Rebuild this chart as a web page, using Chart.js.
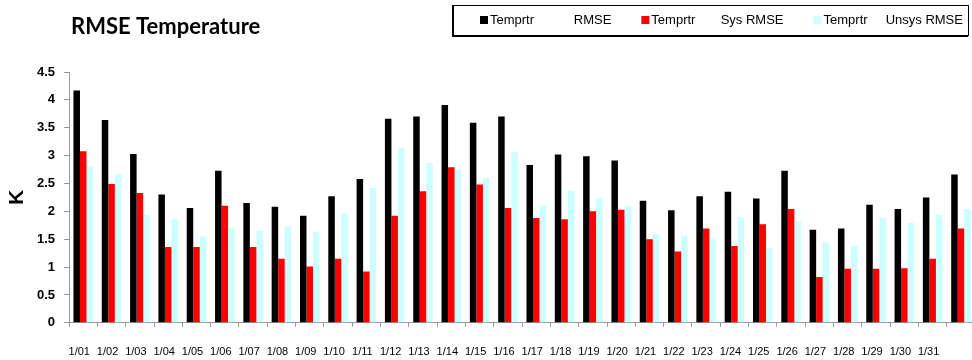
<!DOCTYPE html>
<html>
<head>
<meta charset="utf-8">
<script src="https://cdn.jsdelivr.net/npm/chart.js@4.4.1/dist/chart.umd.min.js"></script>
<style>
  html, body { margin: 0; padding: 0; background: #fff; overflow: hidden; }
  #wrap { width: 980px; height: 360px; }
</style>
</head>
<body>
<div id="wrap"><canvas id="rmseChart" width="980" height="360"></canvas></div>
<script>
const chartTitle = 'RMSE Temperature';
const yTitle = 'K';

const days = ['1/01','1/02','1/03','1/04','1/05','1/06','1/07','1/08','1/09','1/10',
  '1/11','1/12','1/13','1/14','1/15','1/16','1/17','1/18','1/19','1/20',
  '1/21','1/22','1/23','1/24','1/25','1/26','1/27','1/28','1/29','1/30','1/31',''];

const seriesNames = ['Temprtr           RMSE', 'Temprtr       Sys RMSE', 'Temprtr     Unsys RMSE'];
const seriesColors = ['#000000', '#ff0000', '#ccffff'];

const rmse = [4.17,3.64,3.03,2.30,2.06,2.73,2.15,2.08,1.92,2.27,2.58,3.66,3.70,3.91,3.59,3.70,
  2.83,3.02,2.99,2.91,2.19,2.02,2.27,2.35,2.23,2.73,1.67,1.69,2.12,2.04,2.25,2.66];
const sysRmse = [3.08,2.49,2.33,1.36,1.36,2.10,1.36,1.15,1.01,1.15,0.92,1.92,2.36,2.79,2.48,2.06,
  1.88,1.86,2.00,2.03,1.50,1.28,1.69,1.38,1.77,2.04,0.82,0.97,0.97,0.98,1.15,1.69];
const unsysRmse = [2.81,2.66,1.94,1.86,1.55,1.71,1.65,1.73,1.63,1.96,2.42,3.14,2.87,2.75,2.60,3.06,
  2.10,2.37,2.23,2.10,1.59,1.56,1.50,1.90,1.34,1.82,1.44,1.38,1.88,1.79,1.94,2.04];

// title + boxed legend drawn on top of the chart
const headerPlugin = {
  id: 'header',
  afterDraw(chart) {
    const ctx = chart.ctx;
    ctx.save();
    ctx.fillStyle = '#000';
    ctx.font = 'bold 22px Lato, "Liberation Sans", sans-serif';
    ctx.textBaseline = 'alphabetic';
    ctx.textAlign = 'left';
    ctx.fillText(chartTitle, 71, 34);

    // legend box
    const bx = 453, by = 5, bw = 515, bh = 30;
    ctx.strokeStyle = '#000';
    ctx.lineWidth = 1;
    ctx.strokeRect(bx + 0.5, by + 0.5, bw, bh);
    ctx.fillRect(bx - 1, by, 2, bh + 1);
    ctx.fillRect(bx - 1, by + bh, bw + 1, 2);

    ctx.font = '13px "Liberation Sans", Arial, sans-serif';
    ctx.textBaseline = 'middle';
    let x = bx + 27;
    chart.data.datasets.forEach(ds => {
      ctx.fillStyle = ds.backgroundColor;
      ctx.fillRect(x, 16, 8, 8);
      ctx.fillStyle = '#000';
      ctx.fillText(ds.label, x + 10, 20);
      x += 10 + ctx.measureText(ds.label).width + 30;
    });
    ctx.restore();
  }
};

const ctx = document.getElementById('rmseChart').getContext('2d');
new Chart(ctx, {
  type: 'bar',
  data: {
    labels: days,
    datasets: [
      { label: seriesNames[0], data: rmse,      backgroundColor: seriesColors[0] },
      { label: seriesNames[1], data: sysRmse,   backgroundColor: seriesColors[1] },
      { label: seriesNames[2], data: unsysRmse, backgroundColor: seriesColors[2] }
    ]
  },
  options: {
    responsive: false,
    animation: false,
    datasets: {
      bar: { categoryPercentage: 0.69, barPercentage: 1.0, borderWidth: 0 }
    },
    layout: { padding: { top: 72, right: 2, bottom: -18, left: 0 } },
    plugins: {
      legend: { display: false },
      title: { display: false },
      tooltip: { enabled: false }
    },
    scales: {
      x: {
        grid: { drawOnChartArea: false, color: '#999', tickLength: 4, offset: true },
        border: { color: '#999', width: 1 },
        ticks: {
          autoSkip: false, maxRotation: 0, minRotation: 0,
          padding: 19, labelOffset: -4,
          color: '#000',
          font: { family: '"Liberation Sans", Arial, sans-serif', size: 11 }
        }
      },
      y: {
        min: 0, max: 4.5,
        grid: { drawOnChartArea: false, color: '#999', tickLength: 5 },
        border: { color: '#999', width: 1 },
        ticks: {
          stepSize: 0.5, padding: 9, color: '#000',
          callback: v => String(+v.toFixed(1)),
          font: { family: '"Liberation Sans", Arial, sans-serif', size: 13, weight: 'bold' }
        },
        title: {
          display: true, text: yTitle, color: '#000',
          padding: { top: 7, bottom: 0 },
          font: { family: '"Liberation Sans", Arial, sans-serif', size: 21, weight: 'bold', lineHeight: 1 }
        }
      }
    }
  },
  plugins: [headerPlugin]
});
</script>
</body>
</html>
